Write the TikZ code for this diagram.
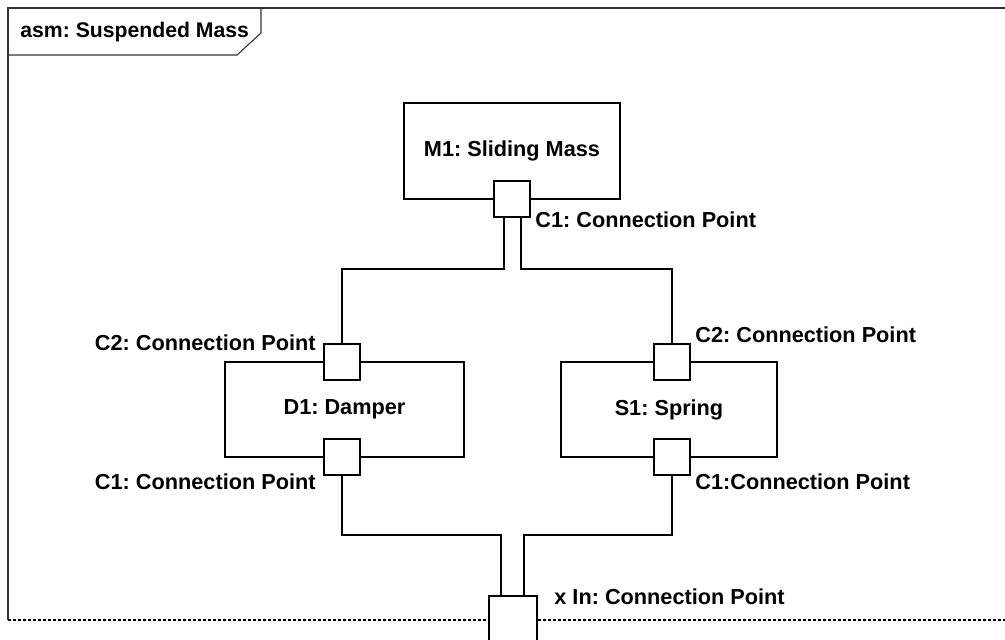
\documentclass[tikz,border=0pt]{standalone}
\usepackage{fontspec}
\setmainfont{Liberation Sans}
\usetikzlibrary{calc}
\frenchspacing
\begin{document}
\begin{tikzpicture}[x=0.5pt,y=-0.5pt,
  every node/.style={font=\fontsize{10.85}{13}\selectfont\bfseries},
  part/.style={draw, line width=0.55pt, fill=white, inner sep=0pt},
  port/.style={draw, line width=0.55pt, fill=white, minimum size=18pt, inner sep=0pt},
  lbl/.style={inner sep=0pt},
  wire/.style={line width=0.55pt},
  frameline/.style={line width=0.55pt, draw=black!80}]
\useasboundingbox (0,0) rectangle (1005,640);
\begin{scope}
\clip (0,0) rectangle (1005,640);
% diagram frame with its name tab
\draw[frameline] (1015,8) -- (8,8) -- (8,620);
\draw[frameline, draw=black, dash pattern=on 1.5pt off 1pt] (8,620) -- (1015,620);
\draw[frameline] (8,55) -- (237,55) -- (261,33) -- (261,8);
\node[lbl, anchor=base west, font=\fontsize{10.6}{13}\selectfont\bfseries] (title) at (20,38) {asm: Suspended Mass};

% parts
\node[part, minimum width=108pt, minimum height=48pt] (m1) at (512,151) {M1: Sliding Mass};
\node[part, minimum width=119.5pt, minimum height=47.5pt] (d1) at (344.5,409.5) {D1: Damper};
\node[part, minimum width=108pt, minimum height=47.5pt] (s1) at (669,409.5) {S1: Spring};

% ports
\node[port] (m1c1) at (512,199) {};
\node[port] (d1c2) at (342,362) {};
\node[port] (d1c1) at (342,457) {};
\node[port] (s1c2) at (672,362) {};
\node[port] (s1c1) at (672,457) {};
\node[port, minimum size=24pt] (xin) at (513,620) {};

% connectors
\coordinate (topbus) at (0,269);
\coordinate (botbus) at (0,535);
\draw[wire] ($(m1c1.south)+(-8,0)$) |- (topbus -| d1c2.north) -- (d1c2.north);
\draw[wire] ($(m1c1.south)+(9,0)$) |- (topbus -| s1c2.north) -- (s1c2.north);
\draw[wire] (d1c1.south) |- ($(botbus -| xin.north)+(-12,0)$) -- ($(xin.north)+(-12,0)$);
\draw[wire] (s1c1.south) |- ($(botbus -| xin.north)+(11,0)$) -- ($(xin.north)+(11,0)$);

% port labels
\node[lbl, anchor=west] (m1c1l) at (535,220) {C1: Connection Point};
\node[lbl, anchor=east] (d1c2l) at (316,343) {C2: Connection Point};
\node[lbl, anchor=east] (d1c1l) at (316,482) {C1: Connection Point};
\node[lbl, anchor=west] (s1c2l) at (695,335) {C2: Connection Point};
\node[lbl, anchor=west] (s1c1l) at (695,482) {C1:Connection Point};
\node[lbl, anchor=west] (xinl) at (554,597) {x In: Connection Point};
\end{scope}
\end{tikzpicture}
\end{document}
